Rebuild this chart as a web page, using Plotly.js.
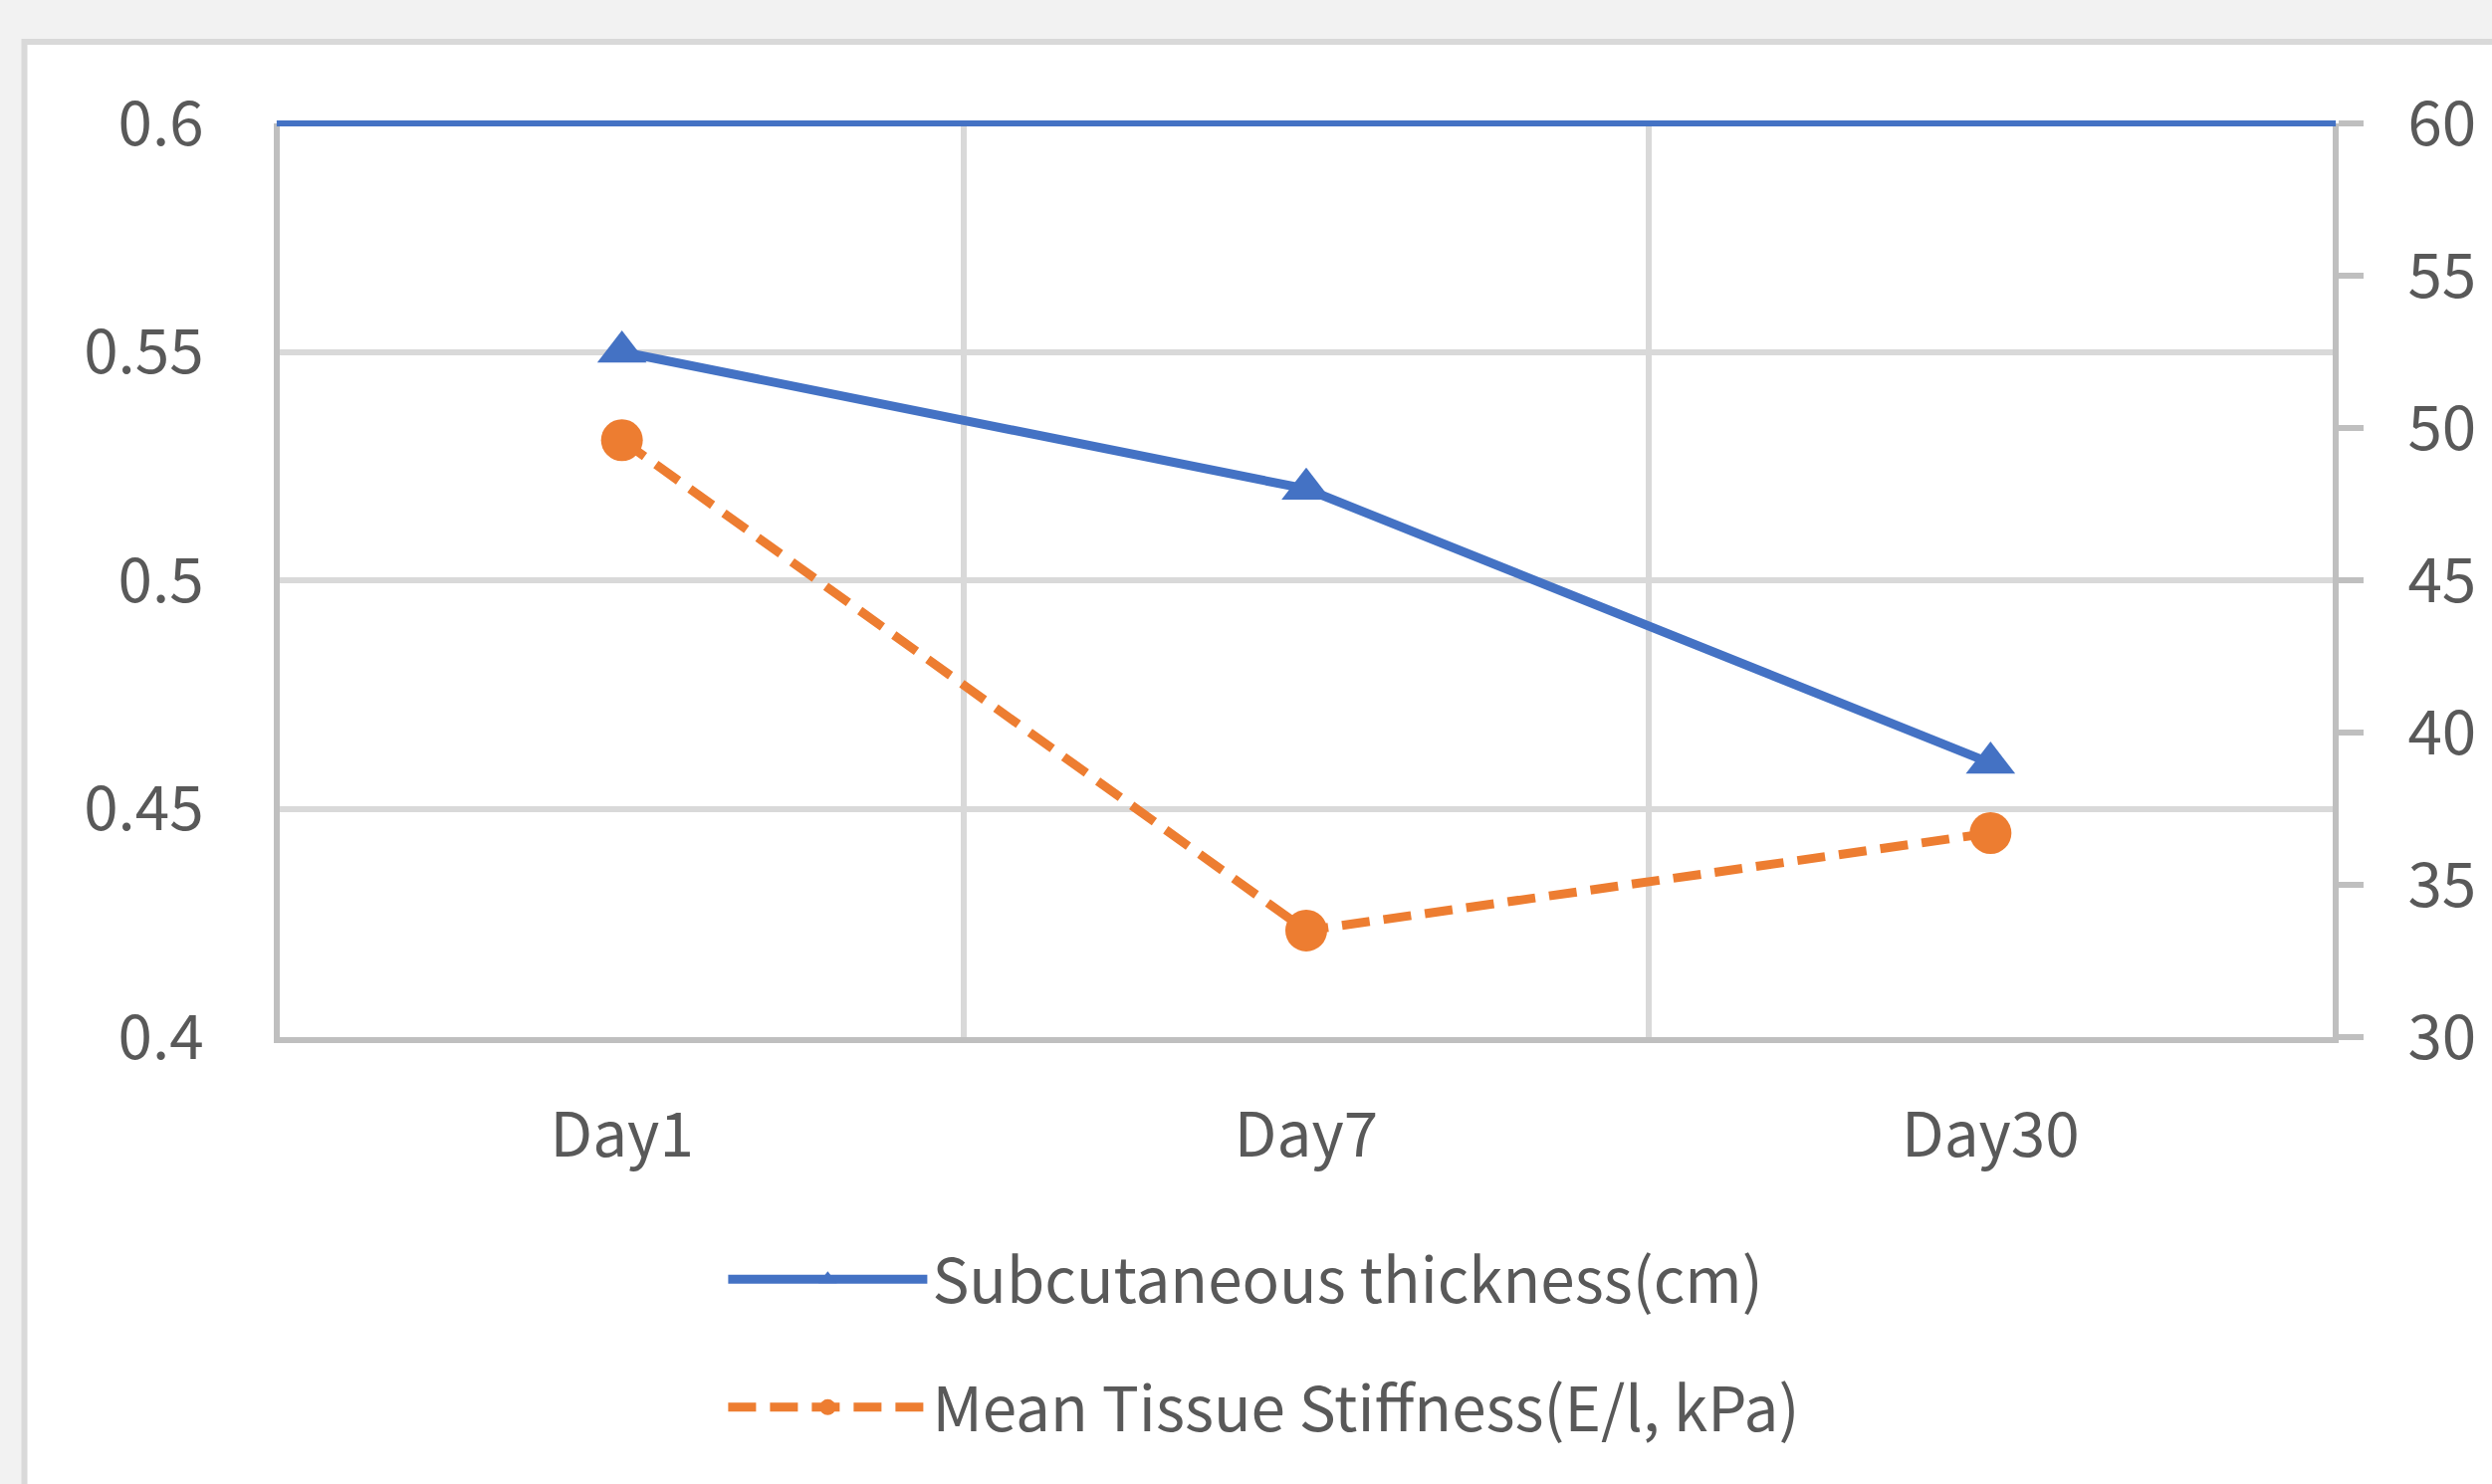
<!DOCTYPE html>
<html>
<head>
<meta charset="utf-8">
<script src="https://cdn.plot.ly/plotly-3.0.1.min.js"></script>
<style>
html,body{margin:0;padding:0;background:#f2f2f2;}
#chart{width:2503px;height:1491px;}
</style>
</head>
<body>
<div id="chart"></div>
<script>
// ---- data ----
const categories = ['Day1', 'Day7', 'Day30'];
const thickness = [0.55, 0.52, 0.46];          // Subcutaneous thickness (cm), left axis
const stiffness = [49.6, 33.5, 36.7];          // Mean Tissue Stiffness (E/l, kPa), right axis
const seriesNames = ['Subcutaneous thickness(cm)', 'Mean Tissue Stiffness(E/l, kPa)'];
const leftTicks = [0.4, 0.45, 0.5, 0.55, 0.6];
const leftTickText = ['0.4', '0.45', '0.5', '0.55', '0.6'];
const rightTicks = [30, 35, 40, 45, 50, 55, 60];
const rightTickText = ['30', '35', '40', '45', '50', '55', '60'];

const FONT = '"Noto Sans CJK KR", "Noto Sans", sans-serif';
const TXT = '#595959';
const GRID = '#d9d9d9';
const AXIS = '#bfbfbf';
const BLUE = '#4472C4';
const ORANGE = '#ED7D31';

const traces = [
  {
    x: categories, y: thickness, name: seriesNames[0], type: 'scatter', mode: 'lines+markers',
    xaxis: 'x', yaxis: 'y', legendgroup: 'a',
    line: {color: BLUE, width: 9},
    marker: {symbol: 'triangle-up', size: 43, color: BLUE},
    hoverinfo: 'skip'
  },
  {
    x: categories, y: stiffness, name: seriesNames[1], type: 'scatter', mode: 'lines+markers',
    xaxis: 'x', yaxis: 'y2', legendgroup: 'b',
    line: {color: ORANGE, width: 9, dash: '28px,14px'},
    marker: {symbol: 'circle', size: 42, color: ORANGE},
    hoverinfo: 'skip'
  }
];

const layout = {
  width: 2503, height: 1491,
  margin: {l: 281, r: 160, t: 124, b: 449, pad: 0},
  paper_bgcolor: '#f2f2f2',
  plot_bgcolor: 'rgba(0,0,0,0)',
  font: {family: FONT, color: TXT, size: 62},
  showlegend: true,
  legend: {
    orientation: 'v', x: 0.216, xanchor: 'left', y: -0.214, yanchor: 'top',
    font: {family: FONT, size: 62, color: TXT},
    itemwidth: 200, tracegroupgap: 45, bgcolor: 'rgba(0,0,0,0)'
  },
  xaxis: {
    type: 'category', tickson: 'boundaries', range: [-0.5, categories.length - 0.5],
    showgrid: true, gridcolor: GRID, gridwidth: 6,
    showline: true, linecolor: AXIS, linewidth: 6,
    ticks: '', zeroline: false, fixedrange: true,
    tickfont: {family: FONT, size: 62, color: TXT},
    ticklabelstandoff: 40
  },
  yaxis: {
    range: [0.4, 0.6], tickvals: leftTicks, ticktext: leftTickText,
    showgrid: true, gridcolor: GRID, gridwidth: 6,
    showline: true, linecolor: AXIS, linewidth: 6,
    ticks: '', zeroline: false, fixedrange: true,
    tickfont: {family: FONT, size: 62, color: TXT},
    ticklabelstandoff: 58
  },
  yaxis2: {
    overlaying: 'y', side: 'right', anchor: 'x',
    range: [30, 60], tickvals: rightTicks, ticktext: rightTickText,
    showgrid: false, zeroline: false,
    showline: true, linecolor: AXIS, linewidth: 6,
    ticks: 'outside', ticklen: 25, tickwidth: 6, tickcolor: AXIS,
    tickfont: {family: FONT, size: 62, color: TXT},
    ticklabelstandoff: 32, fixedrange: true
  },
  shapes: [
    {
      type: 'rect', xref: 'paper', yref: 'paper', layer: 'below',
      x0: -0.1244, x1: 1.1246, y0: -0.608, y1: 1.0893,
      fillcolor: '#ffffff', line: {color: '#d9d9d9', width: 6}
    },
    {
      type: 'line', xref: 'paper', yref: 'paper', layer: 'above',
      x0: -0.0015, x1: 1.0015, y0: 1, y1: 1,
      line: {color: BLUE, width: 6}
    }
  ]
};

Plotly.newPlot('chart', traces, layout, {displayModeBar: false, staticPlot: true});
</script>
</body>
</html>
